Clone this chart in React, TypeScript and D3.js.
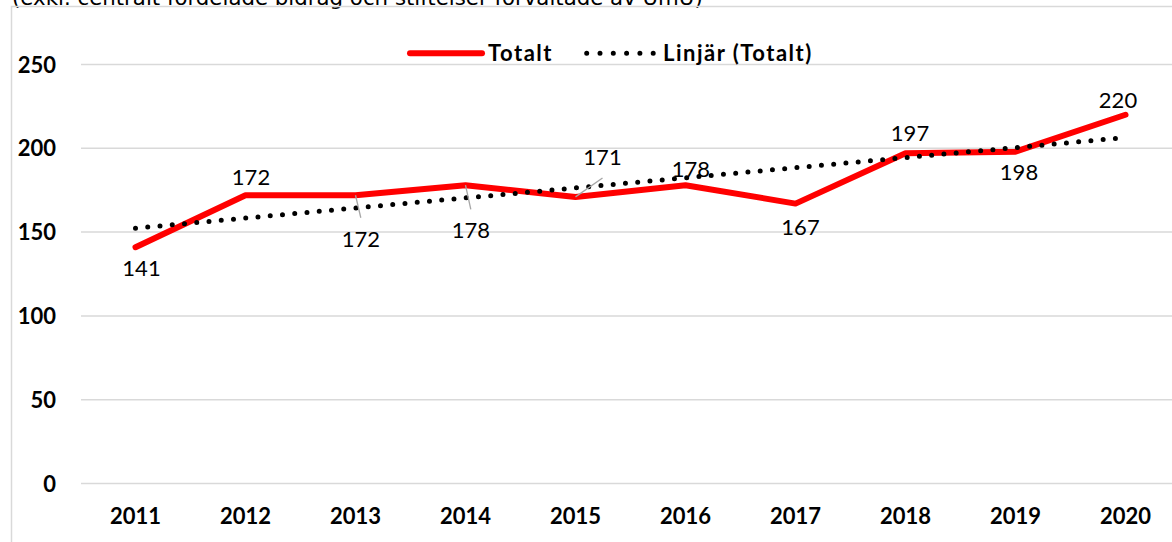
import React from "react";
import * as d3 from "d3";

const years = ["2011", "2012", "2013", "2014", "2015", "2016", "2017", "2018", "2019", "2020"];
const totalt = [141, 172, 172, 178, 171, 178, 167, 197, 198, 220];
const yTicks = [0, 50, 100, 150, 200, 250];
const titleText = "(exkl. centralt fördelade bidrag och stiftelser förvaltade av UmU)";
const legendLabels = ["Totalt", "Linjär (Totalt)"];

// label placement relative to each point (dx, baseline dy) and whether a leader line is drawn
const labelDx = [6, 5.5, 5.3, 5.3, 27, 5.3, 5, 4.5, 3.5, -7.5];
const labelDy = [28.8, -10.2, 51.5, 53.1, -31.9, -7.9, 31, -12, 28.3, -6.5];
const leader = [false, false, true, true, true, false, false, false, false, false];

const W = 1172;
const H = 542;
const RED = "#ff0000";
const GRID = "#d9d9d9";
const FONT = "Lato, Carlito, 'Open Sans', sans-serif";

export default function App() {
  const x = d3.scaleBand<string>().domain(years).range([80.5, 1180.5]).padding(0);
  const y = d3.scaleLinear().domain([0, 250]).range([483.5, 64.5]);
  const cx = (i: number) => (x(years[i]) as number) + x.bandwidth() / 2;

  // linear trend (least squares) computed from the series
  const n = totalt.length;
  const xs = totalt.map((_, i) => i + 1);
  const mx = d3.mean(xs) as number;
  const my = d3.mean(totalt) as number;
  const sxy = d3.sum(xs.map((v, i) => (v - mx) * (totalt[i] - my)));
  const sxx = d3.sum(xs.map((v) => (v - mx) * (v - mx)));
  const slope = sxy / sxx;
  const intercept = my - slope * mx;
  const trend = (i: number) => intercept + slope * (i + 1);

  const line = d3
    .line<number>()
    .x((_, i) => cx(i))
    .y((d) => y(d));
  const redPath = line(totalt) as string;
  const trendPath = d3
    .line<number>()
    .x((i) => cx(i))
    .y((i) => y(trend(i)))([0, n - 1]) as string;

  return (
    <svg
      width={W}
      height={H}
      style={{ position: "absolute", left: 0, top: 0, background: "#fff" }}
    >
      <rect x={0} y={0} width={W} height={H} fill="#fff" />
      <text x={12} y={5} fontFamily="'DejaVu Sans', sans-serif" fontSize={21.3} fill="#000">
        {titleText}
      </text>
      <rect x={11.5} y={6.5} width={W + 20} height={H + 20} fill="none" stroke={GRID} strokeWidth={1.5} />

      {yTicks.map((t) => (
        <g key={t}>
          <line x1={81} x2={W + 10} y1={y(t)} y2={y(t)} stroke={GRID} strokeWidth={1.5} />
          <text
            x={56}
            y={y(t) + 8}
            textAnchor="end"
            fontFamily={FONT}
            fontWeight="bold"
            fontSize={22}
            fill="#000"
          >
            {t}
          </text>
        </g>
      ))}

      {years.map((yr, i) => (
        <text
          key={yr}
          x={cx(i)}
          y={524}
          textAnchor="middle"
          fontFamily={FONT}
          fontWeight="bold"
          fontSize={22}
          fill="#000"
        >
          {yr}
        </text>
      ))}

      <path d={redPath} fill="none" stroke={RED} strokeWidth={6} strokeLinejoin="round" strokeLinecap="round" />
      <path
        d={trendPath}
        fill="none"
        stroke="#000"
        strokeWidth={5}
        strokeDasharray="0 12.3"
        strokeLinecap="round"
      />

      {totalt.map((v, i) => {
        const lx = cx(i) + labelDx[i];
        const ly = y(v) + labelDy[i];
        const below = labelDy[i] > 0;
        return (
          <g key={i}>
            {leader[i] && (
              <line
                x1={cx(i)}
                y1={y(v)}
                x2={lx}
                y2={below ? ly - 29 : ly + 13}
                stroke="#a6a6a6"
                strokeWidth={1.3}
              />
            )}
            <text x={lx} y={ly} textAnchor="middle" fontFamily={FONT} fontSize={22} fill="#000">
              {v}
            </text>
          </g>
        );
      })}

      {/* legend */}
      <line x1={410} x2={482} y1={53.3} y2={53.3} stroke={RED} strokeWidth={6} strokeLinecap="round" />
      <text x={488} y={60.7} fontFamily={FONT} fontWeight="bold" fontSize={22} letterSpacing={1.5} fill="#000">
        {legendLabels[0]}
      </text>
      <line
        x1={586.7}
        x2={653.5}
        y1={53.3}
        y2={53.3}
        stroke="#000"
        strokeWidth={5}
        strokeDasharray="0 13.3"
        strokeLinecap="round"
      />
      <text x={663} y={60.7} fontFamily={FONT} fontWeight="bold" fontSize={22} letterSpacing={1.5} fill="#000">
        {legendLabels[1]}
      </text>
    </svg>
  );
}
